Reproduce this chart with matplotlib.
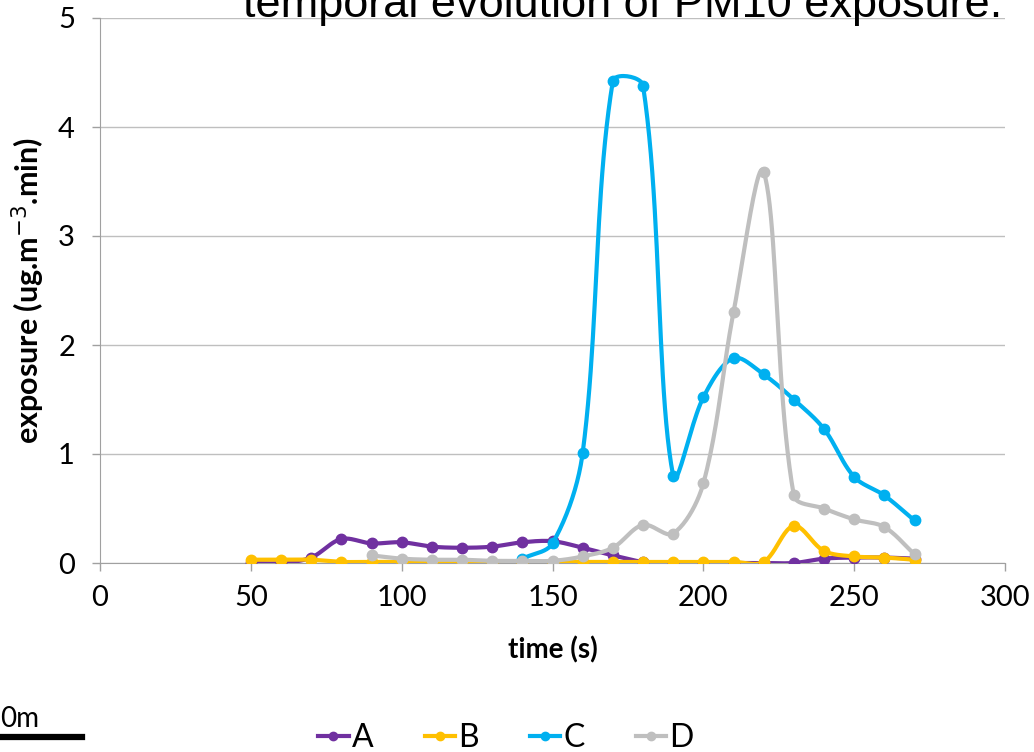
import numpy as np
import matplotlib
matplotlib.use("Agg")
import matplotlib.pyplot as plt
from matplotlib.lines import Line2D

# data
time_a = [50, 60, 70, 80, 90, 100, 110, 120, 130, 140, 150, 160, 170, 180, 190, 200, 210, 220, 230, 240, 250, 260, 270]
exp_a = [0.0, 0.0, 0.05, 0.22, 0.18, 0.19, 0.15, 0.14, 0.15, 0.19, 0.20, 0.14, 0.07, 0.01, 0.0, 0.0, 0.0, 0.0, 0.0, 0.04, 0.05, 0.05, 0.04]

time_b = [50, 60, 70, 80, 90, 100, 110, 120, 130, 140, 150, 160, 170, 180, 190, 200, 210, 220, 230, 240, 250, 260, 270]
exp_b = [0.03, 0.03, 0.03, 0.01, 0.01, 0.01, 0.01, 0.01, 0.01, 0.01, 0.01, 0.01, 0.01, 0.01, 0.01, 0.01, 0.01, 0.01, 0.34, 0.11, 0.06, 0.05, 0.03]

time_c = [140, 150, 160, 170, 180, 190, 200, 210, 220, 230, 240, 250, 260, 270]
exp_c = [0.04, 0.18, 1.01, 4.42, 4.38, 0.80, 1.52, 1.88, 1.73, 1.50, 1.23, 0.79, 0.62, 0.39]

time_d = [90, 100, 110, 120, 130, 140, 150, 160, 170, 180, 190, 200, 210, 220, 230, 240, 250, 260, 270]
exp_d = [0.07, 0.04, 0.03, 0.03, 0.02, 0.02, 0.02, 0.06, 0.14, 0.35, 0.27, 0.73, 2.30, 3.59, 0.62, 0.50, 0.40, 0.33, 0.08]

names = ["A", "B", "C", "D"]
colors = ["#7030A0", "#FFC000", "#00B0F0", "#BFBFBF"]

# pixels per data unit, used so the smoothing works in screen space like excel
SX = 905 / 300
SY = 545 / 5


def smooth(x, y, n=24):
    # bezier through the points, control arms scaled by neighbouring segment lengths
    x = np.asarray(x, float) * SX
    y = np.asarray(y, float) * SY
    px = np.concatenate([[x[0]], x, [x[-1]]])
    py = np.concatenate([[y[0]], y, [y[-1]]])
    xs, ys = [], []
    t = np.linspace(0, 1, n)
    for i in range(1, len(px) - 2):
        p0 = np.array([px[i-1], py[i-1]])
        p1 = np.array([px[i], py[i]])
        p2 = np.array([px[i+1], py[i+1]])
        p3 = np.array([px[i+2], py[i+2]])
        l01 = np.hypot(*(p1 - p0))
        l12 = np.hypot(*(p2 - p1))
        l23 = np.hypot(*(p3 - p2))
        k1 = l12 / (l01 + l12) if l01 + l12 > 0 else 0
        k2 = l12 / (l12 + l23) if l12 + l23 > 0 else 0
        b1 = p1 + (p2 - p0) * k1 / 3
        b2 = p2 - (p3 - p1) * k2 / 3
        pts = ((1-t)**3)[:, None]*p1 + (3*(1-t)**2*t)[:, None]*b1 + (3*(1-t)*t**2)[:, None]*b2 + (t**3)[:, None]*p2
        xs.append(pts[:, 0])
        ys.append(pts[:, 1])
    return np.concatenate(xs) / SX, np.concatenate(ys) / SY


tick_font = ["Lato", "DejaVu Sans"]

fig = plt.figure(figsize=(10.34, 7.52), dpi=100)
ax = fig.add_axes([100/1034, 1-563/752, 905/1034, 545/752])

series = [(time_a, exp_a), (time_b, exp_b), (time_c, exp_c), (time_d, exp_d)]
for (t, e), c in zip(series, colors):
    sx, sy = smooth(t, e)
    ax.plot(sx, sy, color=c, lw=3.0, solid_capstyle="round", zorder=3)
    ax.plot(t, e, "o", color=c, ms=7.5, zorder=3)

ax.set_xlim(0, 300)
ax.set_ylim(0, 5)
ax.set_xticks(np.arange(0, 301, 50))
ax.set_yticks(np.arange(0, 6, 1))
ax.yaxis.grid(True, color="#BFBFBF", lw=1.0)
ax.set_axisbelow(True)
for s in ["top", "right"]:
    ax.spines[s].set_visible(False)
ax.spines["left"].set_color("#A0A0A0")
ax.spines["bottom"].set_color("#A0A0A0")
ax.tick_params(axis="both", colors="#A0A0A0", length=6, width=1, labelcolor="black")
for lab in ax.get_xticklabels() + ax.get_yticklabels():
    lab.set_family(tick_font)
    lab.set_fontsize(21)
ax.tick_params(axis="x", pad=10)
ax.tick_params(axis="y", pad=12)

ax.set_xlabel("time (s)", fontsize=20, fontweight="bold", family=tick_font, labelpad=18)
ax.set_ylabel("exposure (ug.m$^{-3}$.min)", fontsize=22, fontweight="bold", family=tick_font, labelpad=8)

fig.text(243/1034, 1-17/752, "temporal evolution of PM10 exposure.", fontsize=32.5,
         family=["Liberation Sans Narrow", "Liberation Sans"], va="baseline", ha="left")

# scale bar fragment bottom left
fig.text(0, 1-727/752, "0m", fontsize=20, family=tick_font, va="baseline", ha="left")
fig.add_artist(Line2D([0, 82/1034], [1-737/752, 1-737/752], color="black", lw=4.5))

handles = [Line2D([], [], color=c, lw=3.0, marker="o", ms=6) for c in colors]
fig.legend(handles, names, loc="center", bbox_to_anchor=(506/1034, 1-738/752), ncol=4,
           frameon=False, prop={"family": tick_font, "size": 23}, handlelength=0.95,
           handletextpad=0.1, columnspacing=1.6)

fig.savefig("out.png", dpi=100)
